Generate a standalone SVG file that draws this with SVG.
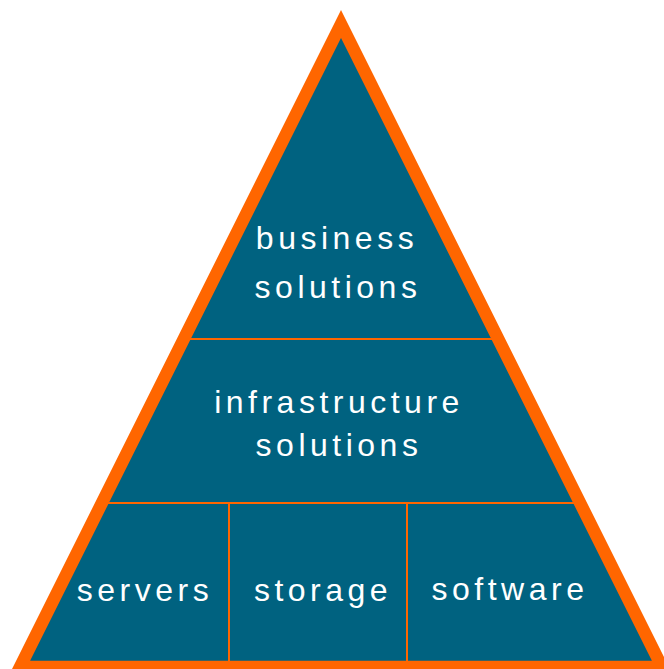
<svg xmlns="http://www.w3.org/2000/svg" width="664" height="669" viewBox="0 0 664 669">
  <style>
    .lbl { font-family: "Liberation Sans", Arial, sans-serif; font-size: 32px; fill: #FFFFFF; letter-spacing: 4.5px; text-anchor: middle; }
    .div { stroke: #FF6600; stroke-width: 2; fill: none; }
  </style>
  <rect x="0" y="0" width="664" height="669" fill="#FFFFFF"/>
  <g id="pyramid-fill">
    <polygon points="341,24 20,667 662,667" fill="#006280"/>
  </g>
  <g id="dividers">
    <line class="div" x1="184" y1="339" x2="498" y2="339"/>
    <line class="div" x1="102" y1="503" x2="580" y2="503"/>
    <line class="div" x1="229" y1="503" x2="229" y2="667"/>
    <line class="div" x1="407" y1="503" x2="407" y2="667"/>
  </g>
  <g id="pyramid-outline">
    <polygon points="341,24 20,667 662,667" fill="none" stroke="#FF6600" stroke-width="12.5" stroke-linejoin="miter" stroke-miterlimit="10"/>
  </g>
  <g id="business-solutions">
    <text class="lbl" x="337" y="249">business</text>
    <text class="lbl" x="338" y="298">solutions</text>
  </g>
  <g id="infrastructure-solutions">
    <text class="lbl" x="339" y="413">infrastructure</text>
    <text class="lbl" x="339" y="456">solutions</text>
  </g>
  <g id="servers">
    <text class="lbl" x="145" y="601">servers</text>
  </g>
  <g id="storage">
    <text class="lbl" x="323" y="601">storage</text>
  </g>
  <g id="software">
    <text class="lbl" x="510" y="600">software</text>
  </g>
</svg>
